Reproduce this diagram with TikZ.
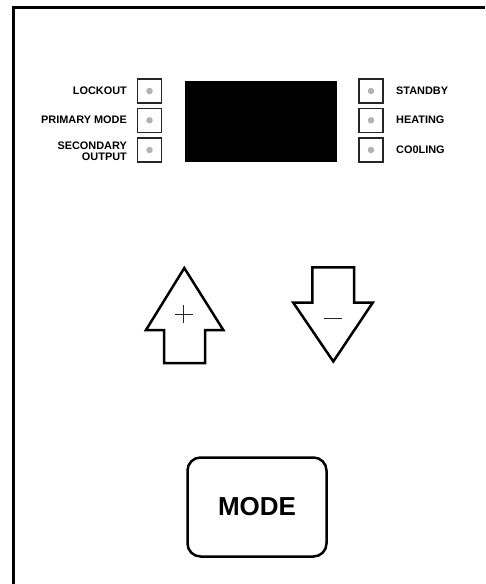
\documentclass[tikz,border=0pt]{standalone}
\usepackage{fontspec}
\setmainfont{Liberation Sans}
\begin{document}
\begin{tikzpicture}[x=1pt,y=-1pt,
  lbl/.style={font=\bfseries\fontsize{10.9}{11.5}\selectfont, inner sep=0pt},
  ledbox/.style={draw=black!85, line width=1.5pt, minimum width=24pt, minimum height=24pt, inner sep=0pt},
  led/.style={fill=black!30, circle, minimum size=6.5pt, inner sep=0pt},
  arr/.style={draw=black, line width=2.5pt, line join=miter},
  sign/.style={draw=black!85, line width=1.3pt}]
\useasboundingbox (0,0) rectangle (485,584);
% frame
\draw[line width=3pt] (13.5,584) -- (13.5,7) -- (485,7);
% display
\node[fill=black, minimum width=152pt, minimum height=81pt, inner sep=0pt] (disp) at (260.5,121.3) {};
% left LEDs
\node[ledbox] (b1) at (149.5,91) {};
\node[ledbox] (b2) at (149.5,120.3) {};
\node[ledbox] (b3) at (149.5,150) {};
\node[led] (d1) at (b1) {};
\node[led] (d2) at (b2) {};
\node[led] (d3) at (b3) {};
\node[lbl, anchor=east] (l1) at (127,90.7) {LOCKOUT};
\node[lbl, anchor=east] (l2) at (127,120) {PRIMARY MODE};
\node[lbl, anchor=east, align=right] (l3) at (127,151.2) {SECONDARY\\[-0.5pt]OUTPUT};
% right LEDs
\node[ledbox] (r1) at (371,91) {};
\node[ledbox] (r2) at (371,120.3) {};
\node[ledbox] (r3) at (371,150) {};
\node[led] (e1) at (r1) {};
\node[led] (e2) at (r2) {};
\node[led] (e3) at (r3) {};
\node[lbl, anchor=west] (t1) at (396,90.7) {STANDBY};
\node[lbl, anchor=west] (t2) at (396,120) {HEATING};
\node[lbl, anchor=west] (t3) at (396,149.7) {CO0LING};
% up arrow
\draw[arr] (184.3,268) -- (223.3,330) -- (205,330) -- (205,363) -- (164,363) -- (164,330) -- (146,330) -- cycle;
\draw[sign] (174.5,314.3) -- (192.5,314.3) (183.5,305.3) -- (183.5,323.3);
% down arrow
\draw[arr] (312.3,267.3) -- (354,267.3) -- (354,302.7) -- (372.7,302.7) -- (333.3,361.5) -- (293.3,302.7) -- (312.3,302.7) -- cycle;
\draw[sign] (324,318.3) -- (342,318.3);
% mode button
\node[draw=black, line width=2.5pt, rounded corners=13pt, minimum width=139pt, minimum height=99pt, inner sep=0pt,
  font=\bfseries\fontsize{26}{28}\selectfont] (mode) at (257,507) {MODE};
\end{tikzpicture}
\end{document}
